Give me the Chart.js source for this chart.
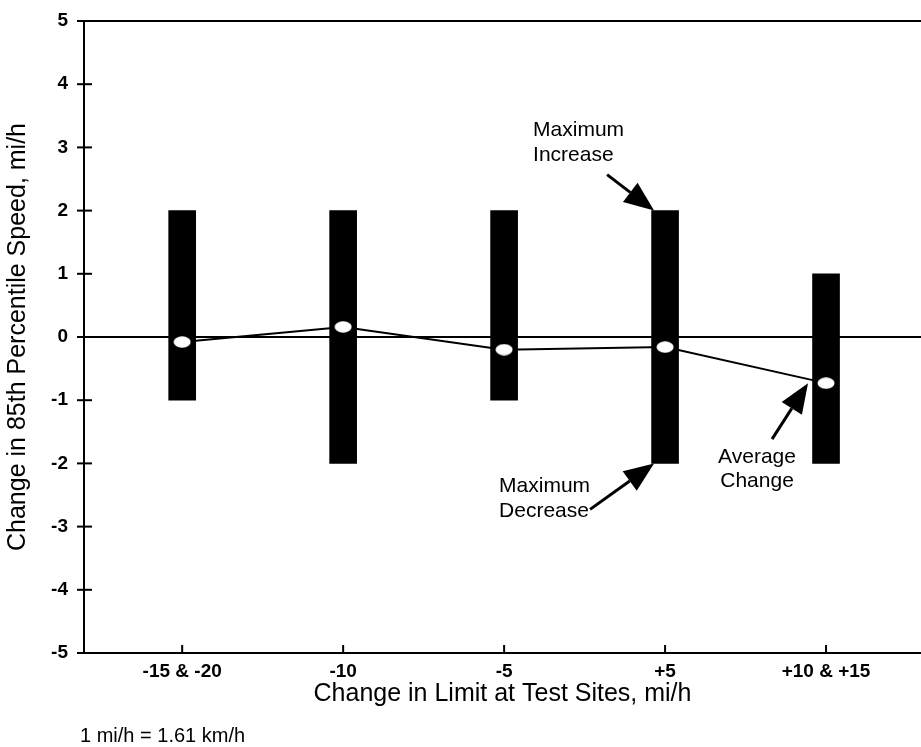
<!doctype html>
<html lang="en">
<head>
<meta charset="utf-8">
<title>Change in 85th Percentile Speed</title>
<script src="https://cdn.jsdelivr.net/npm/chart.js@4.4.1/dist/chart.umd.min.js"></script>
<style>
  body { margin: 0; background: #fff; }
</style>
</head>
<body>
<canvas id="speedChart" width="921" height="747"></canvas>
<script>
// data
var groups = ["-15 & -20", "-10", "-5", "+5", "+10 & +15"];
var groupPos = [1, 2, 3, 4, 5];
var maxDecrease = [-1, -2, -1, -2, -2];
var maxIncrease = [2, 2, 2, 2, 1];
var avgChange = [-0.08, 0.16, -0.2, -0.16, -0.73];
var yTicks = [-5, -4, -3, -2, -1, 0, 1, 2, 3, 4, 5];

var FONT = "'Liberation Sans', Arial, sans-serif";

var rangeData = [];
var avgData = [];
for (var i = 0; i < groups.length; i++) {
  rangeData.push({ x: groupPos[i], y: [maxDecrease[i], maxIncrease[i]] });
  avgData.push({ x: groupPos[i], y: avgChange[i] });
}

// white oval marker
var oval = document.createElement("canvas");
oval.width = 18; oval.height = 12;
var oc = oval.getContext("2d");
oc.fillStyle = "#fff";
oc.beginPath();
oc.ellipse(9, 6, 8.5, 5.8, 0, 0, Math.PI * 2);
oc.fill();

function arrow(ctx, x0, y0, x1, y1) {
  var ang = Math.atan2(y1 - y0, x1 - x0);
  var len = 30, half = 12;
  var bx = x1 - len * Math.cos(ang), by = y1 - len * Math.sin(ang);
  ctx.beginPath();
  ctx.moveTo(x0, y0);
  ctx.lineTo(bx, by);
  ctx.lineWidth = 3;
  ctx.stroke();
  ctx.beginPath();
  ctx.moveTo(x1, y1);
  ctx.lineTo(bx + half * Math.sin(ang), by - half * Math.cos(ang));
  ctx.lineTo(bx - half * Math.sin(ang), by + half * Math.cos(ang));
  ctx.closePath();
  ctx.fill();
}

var extras = {
  id: "extras",
  afterDraw: function (chart) {
    var ctx = chart.ctx;
    var xs = chart.scales.x, ys = chart.scales.y;
    ctx.save();
    ctx.strokeStyle = "#000";
    ctx.fillStyle = "#000";
    ctx.lineWidth = 2;
    // y ticks crossing the axis
    yTicks.forEach(function (v) {
      var py = ys.getPixelForValue(v);
      ctx.beginPath();
      ctx.moveTo(xs.left - 7, py);
      ctx.lineTo(xs.left + 8, py);
      ctx.stroke();
    });
    // x ticks pointing up
    groupPos.forEach(function (v) {
      var px = xs.getPixelForValue(v);
      ctx.beginPath();
      ctx.moveTo(px, ys.bottom);
      ctx.lineTo(px, ys.bottom - 8);
      ctx.stroke();
    });

    ctx.font = "21px " + FONT;
    ctx.textBaseline = "middle";
    // Maximum Increase
    var tx = xs.getPixelForValue(4) - 13, ty = ys.getPixelForValue(2);
    ctx.textAlign = "left";
    ctx.fillText("Maximum", tx - 119, ty - 80);
    ctx.fillText("Increase", tx - 119, ty - 55);
    arrow(ctx, tx - 45, ty - 36, tx + 2, ty);
    // Maximum Decrease
    var dx = xs.getPixelForValue(4) - 13, dy = ys.getPixelForValue(-2);
    ctx.fillText("Maximum", dx - 153, dy + 23);
    ctx.fillText("Decrease", dx - 153, dy + 48);
    arrow(ctx, dx - 62, dy + 46, dx + 2, dy);
    // Average Change
    var ax = xs.getPixelForValue(5), ay = ys.getPixelForValue(avgChange[4]);
    ctx.textAlign = "center";
    ctx.fillText("Average", ax - 69, ay + 74);
    ctx.fillText("Change", ax - 69, ay + 98);
    arrow(ctx, ax - 54, ay + 56, ax - 18, ay);

    // footnote
    ctx.textAlign = "left";
    ctx.font = "20px " + FONT;
    ctx.fillText("1 mi/h = 1.61 km/h", 80, 736);
    ctx.restore();
  }
};

new Chart(document.getElementById("speedChart"), {
  data: {
    datasets: [
      {
        type: "line",
        label: "Average Change",
        data: avgData,
        borderColor: "#000",
        borderWidth: 2,
        pointStyle: oval,
        pointRadius: 8,
        pointHoverRadius: 8,
        tension: 0,
        order: 1
      },
      {
        type: "bar",
        label: "Range",
        data: rangeData,
        backgroundColor: "#000",
        borderWidth: 0,
        borderSkipped: false,
        barThickness: 27,
        order: 2
      }
    ]
  },
  options: {
    responsive: false,
    animation: false,
    layout: { autoPadding: false, padding: { top: 21, right: 0, left: 0, bottom: 38 } },
    plugins: { legend: { display: false }, tooltip: { enabled: false } },
    scales: {
      x: {
        type: "linear",
        min: 0.39,
        max: 5.59,
        offset: false,
        afterBuildTicks: function (scale) {
          scale.ticks = groupPos.map(function (v) { return { value: v }; });
        },
        afterFit: function (scale) {
          scale.height = 56;
          scale.paddingLeft = 0;
          scale.paddingRight = 0;
        },
        ticks: {
          color: "#000",
          font: { family: FONT, size: 19, weight: "bold" },
          padding: 7,
          maxRotation: 0,
          callback: function (v) { return groups[groupPos.indexOf(v)]; }
        },
        grid: { display: false, drawTicks: false, offset: false },
        border: { color: "#000", width: 2 },
        title: {
          display: true,
          text: "Change in Limit at Test Sites, mi/h",
          color: "#000",
          font: { family: FONT, size: 25 },
          padding: { top: 0, bottom: 0 }
        }
      },
      y: {
        min: -5,
        max: 5,
        afterBuildTicks: function (scale) {
          scale.ticks = yTicks.map(function (v) { return { value: v }; });
        },
        afterFit: function (scale) {
          scale.width = 84;
          scale.paddingTop = 0;
          scale.paddingBottom = 0;
        },
        ticks: {
          color: "#000",
          font: { family: FONT, size: 19, weight: "bold" },
          padding: 16
        },
        grid: {
          drawTicks: false,
          lineWidth: 2,
          color: function (c) {
            return (c.tick && (c.tick.value === 0 || c.tick.value === 5)) ? "#000" : "rgba(0,0,0,0)";
          }
        },
        border: { color: "#000", width: 2 },
        title: {
          display: true,
          text: "Change in 85th Percentile Speed, mi/h",
          color: "#000",
          font: { family: FONT, size: 25 },
          padding: { top: 3, bottom: 0 }
        }
      }
    }
  },
  plugins: [extras]
});
</script>
</body>
</html>
